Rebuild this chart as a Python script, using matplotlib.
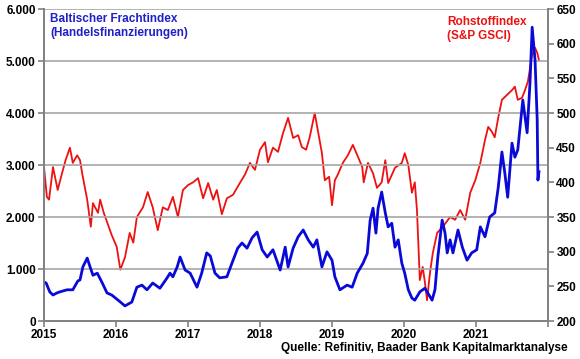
import numpy as np
import matplotlib.pyplot as plt
from matplotlib.ticker import FuncFormatter

# Baltic Dry Index (left axis), time as decimal years
t_blue = [2015.0, 2015.03, 2015.08, 2015.125, 2015.18, 2015.22, 2015.32, 2015.4, 2015.47, 2015.5,
          2015.54, 2015.6, 2015.64, 2015.68, 2015.74, 2015.81, 2015.875, 2015.94, 2016.03, 2016.125,
          2016.22, 2016.29, 2016.36, 2016.43, 2016.51, 2016.61, 2016.71, 2016.75, 2016.79, 2016.85,
          2016.89, 2016.96, 2017.03, 2017.125, 2017.19, 2017.26, 2017.31, 2017.375, 2017.44, 2017.54,
          2017.61, 2017.69, 2017.75, 2017.82, 2017.89, 2017.96, 2018.03, 2018.1, 2018.18, 2018.28,
          2018.35, 2018.39, 2018.46, 2018.53, 2018.6, 2018.67, 2018.74, 2018.79, 2018.86, 2018.93,
          2019.0, 2019.04, 2019.11, 2019.21, 2019.28, 2019.35, 2019.43, 2019.49, 2019.53, 2019.57,
          2019.61, 2019.64, 2019.69, 2019.74, 2019.78, 2019.83, 2019.875, 2019.92, 2019.97, 2020.01,
          2020.06, 2020.11, 2020.15, 2020.22, 2020.29, 2020.33, 2020.39, 2020.43, 2020.47, 2020.53,
          2020.57, 2020.6, 2020.64, 2020.68, 2020.75, 2020.81, 2020.875, 2020.94, 2021.01, 2021.06,
          2021.125, 2021.19, 2021.26, 2021.31, 2021.36, 2021.4, 2021.44, 2021.5, 2021.54, 2021.58,
          2021.65, 2021.71, 2021.75, 2021.78, 2021.82, 2021.85, 2021.86, 2021.875]
bdi = [750, 730, 560, 500, 540, 560, 600, 600, 770, 790,
       1040, 1210, 1040, 880, 920, 730, 540, 500, 400, 290,
       365, 650, 690, 600, 730, 630, 830, 920, 850, 1040,
       1230, 980, 920, 650, 920, 1310, 1250, 920, 830, 850,
       1110, 1400, 1500, 1400, 1600, 1710, 1370, 1230, 1370, 980,
       1420, 1040, 1400, 1620, 1750, 1560, 1420, 1560, 1040, 1330,
       1170, 850, 600, 690, 650, 920, 1110, 1300, 1940, 2170,
       1690, 2170, 2480, 2080, 1810, 1880, 1420, 1560, 1110, 920,
       600, 440, 400, 560, 630, 540, 400, 600, 1230, 1940,
       1690, 1310, 1560, 1310, 1750, 1420, 1170, 1310, 1370, 1810,
       1620, 2000, 2080, 2580, 3250, 2850, 2380, 3420, 3150, 3290,
       4250, 3620, 4580, 5650, 5020, 3870, 2710, 2870]

# S&P GSCI (right axis)
t_red = [2015.0, 2015.04, 2015.07, 2015.125, 2015.19, 2015.25, 2015.3, 2015.36, 2015.4, 2015.46,
         2015.5, 2015.53, 2015.6, 2015.65, 2015.68, 2015.75, 2015.78, 2015.83, 2015.875, 2015.94,
         2016.01, 2016.06, 2016.125, 2016.19, 2016.24, 2016.29, 2016.375, 2016.44, 2016.51, 2016.58,
         2016.65, 2016.72, 2016.79, 2016.86, 2016.93, 2017.0, 2017.07, 2017.14, 2017.21, 2017.28,
         2017.35, 2017.4, 2017.47, 2017.54, 2017.625, 2017.72, 2017.79, 2017.86, 2017.93, 2018.0,
         2018.07, 2018.11, 2018.18, 2018.25, 2018.32, 2018.39, 2018.46, 2018.53, 2018.58, 2018.64,
         2018.69, 2018.76, 2018.81, 2018.86, 2018.9, 2018.96, 2019.0, 2019.04, 2019.08, 2019.15,
         2019.22, 2019.29, 2019.36, 2019.42, 2019.44, 2019.5, 2019.57, 2019.625, 2019.69, 2019.74,
         2019.78, 2019.875, 2019.97, 2020.01, 2020.06, 2020.11, 2020.15, 2020.18, 2020.22, 2020.26,
         2020.29, 2020.32, 2020.36, 2020.4, 2020.46, 2020.54, 2020.64, 2020.71, 2020.78, 2020.85,
         2020.92, 2020.99, 2021.06, 2021.125, 2021.17, 2021.22, 2021.26, 2021.31, 2021.36, 2021.43,
         2021.5, 2021.54, 2021.58, 2021.64, 2021.68, 2021.72, 2021.78, 2021.82, 2021.85, 2021.875]
gsci = [422, 379, 375, 422, 389, 413, 432, 450, 428, 439,
        432, 413, 375, 336, 370, 356, 375, 356, 343, 324,
        307, 274, 292, 327, 313, 350, 364, 386, 364, 331,
        364, 360, 379, 350, 389, 396, 400, 406, 377, 399,
        375, 389, 354, 377, 382, 399, 411, 428, 418, 447,
        458, 429, 450, 444, 471, 493, 464, 468, 451, 447,
        465, 500, 471, 442, 403, 408, 367, 403, 411, 428,
        439, 454, 437, 422, 400, 428, 413, 392, 400, 432,
        399, 421, 428, 442, 425, 385, 400, 360, 259, 278,
        256, 230, 269, 298, 327, 336, 350, 346, 360, 346,
        385, 403, 428, 461, 480, 473, 465, 494, 519, 526,
        533, 538, 519, 522, 533, 545, 584, 594, 587, 576]

years = list(range(2015, 2023))
year_labels = [str(y) for y in range(2015, 2022)] + [""]

plt.rcParams['font.family'] = ['Liberation Sans', 'DejaVu Sans']
plt.rcParams['font.weight'] = 'bold'

fig = plt.figure(figsize=(5.8, 3.59), dpi=100)
ax = fig.add_axes([44 / 580, 1 - 321 / 359, 504 / 580, 312 / 359])
ax2 = ax.twinx()

ax.set_zorder(ax2.get_zorder() + 1)
ax.patch.set_visible(False)

grid_c = '#a6a6a6'
for v in range(1000, 7000, 1000):
    ax.axhline(v, color=grid_c, linewidth=1.2, zorder=0)

ax2.plot(t_red, gsci, color='#ee1111', linewidth=1.3)
ax.plot(t_blue, bdi, color='#0a0ad8', linewidth=2.0)

ax.set_xlim(2015, 2022)
ax.set_ylim(0, 6000)
ax2.set_ylim(200, 650)

ax.set_xticks(years)
ax.set_xticklabels(year_labels)
ax.set_yticks(range(0, 7000, 1000))
ax.yaxis.set_major_formatter(FuncFormatter(lambda v, p: f"{int(v):,}".replace(",", ".")))
ax2.set_yticks(range(200, 700, 50))

for a in (ax, ax2):
    for s in a.spines.values():
        s.set_color('#808080')
        s.set_linewidth(1.2)
    a.spines['top'].set_visible(False)
    a.tick_params(colors='#808080', labelcolor='black', labelsize=8.5, length=4, width=1.2, pad=2)

fig.text(50 / 580, 1 - 26 / 359, "Baltischer Frachtindex\n(Handelsfinanzierungen)",
         color='#2020c8', fontsize=8.5, fontweight='bold', va='center', ha='left', linespacing=1.15)
fig.text(447 / 580, 1 - 29 / 359, "Rohstoffindex\n(S&P GSCI)",
         color='#ee1111', fontsize=8.5, fontweight='bold', va='center', ha='left', linespacing=1.15)
fig.text(568 / 580, 1 - 348 / 359, "Quelle: Refinitiv, Baader Bank Kapitalmarktanalyse",
         fontsize=8.5, fontweight='bold', ha='right', va='center')

fig.savefig("out.png", dpi=100)
